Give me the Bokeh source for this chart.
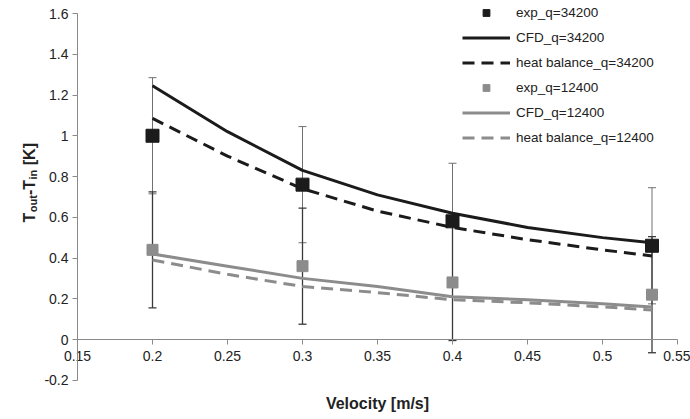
import math
from bokeh.plotting import figure
from bokeh.models import (ColumnDataSource, Range1d, LinearAxis, FixedTicker,
                          CustomJSTickFormatter, Whisker, TeeHead, Legend,
                          LegendItem, Label)
from bokeh.embed import file_html
from bokeh.resources import INLINE

# ---------------- data ----------------
velocity_exp = [0.2, 0.3, 0.4, 0.533]
exp_34200 = [1.00, 0.76, 0.58, 0.46]
exp_12400 = [0.44, 0.36, 0.28, 0.22]
err_34200 = [0.285, 0.285, 0.285, 0.285]
err_12400 = [0.285, 0.285, 0.285, 0.285]

velocity_model = [0.2, 0.25, 0.3, 0.35, 0.4, 0.45, 0.5, 0.533]
cfd_34200 = [1.245, 1.02, 0.83, 0.71, 0.62, 0.55, 0.50, 0.475]
hb_34200 = [1.085, 0.90, 0.74, 0.63, 0.55, 0.49, 0.44, 0.41]
cfd_12400 = [0.42, 0.36, 0.30, 0.26, 0.21, 0.195, 0.175, 0.16]
hb_12400 = [0.39, 0.32, 0.26, 0.23, 0.195, 0.18, 0.16, 0.145]

x_ticks = [0.15, 0.2, 0.25, 0.3, 0.35, 0.4, 0.45, 0.5, 0.55]
y_ticks = [-0.2, 0, 0.2, 0.4, 0.6, 0.8, 1.0, 1.2, 1.4, 1.6]

series_names = ["exp_q=34200", "CFD_q=34200", "heat balance_q=34200",
                "exp_q=12400", "CFD_q=12400", "heat balance_q=12400"]
x_title = "Velocity [m/s]"

# ---------------- style / layout ----------------
BLACK = "#1b1b1b"
GRAY = "#8c8c8c"
AXIS = "#8a8a8a"
FONT = "Liberation Sans"

W, H = 690, 419
PX_LEFT, PX_RIGHT, PX_TOP, PX_ZERO = 77, 677, 13, 339
XMIN, XMAX = x_ticks[0], x_ticks[-1]
YMIN, YMAX = y_ticks[0], y_ticks[-1]
xs = (PX_RIGHT - PX_LEFT) / (XMAX - XMIN)
ys = (PX_ZERO - PX_TOP) / YMAX
x_range = Range1d(XMIN - PX_LEFT / xs, XMAX + (W - PX_RIGHT) / xs)
y_range = Range1d(-(H - PX_ZERO) / ys, YMAX + PX_TOP / ys)

p = figure(width=W, height=H, output_backend="svg", toolbar_location=None,
           x_range=x_range, y_range=y_range,
           x_axis_location=None, y_axis_location=None,
           min_border=0)
p.outline_line_color = None
p.xgrid.visible = False
p.ygrid.visible = False
p.background_fill_color = "white"
p.border_fill_color = "white"

fmt = CustomJSTickFormatter(code="return String(Math.round(tick*1000)/1000);")

yax = LinearAxis(fixed_location=XMIN, bounds=(YMIN, YMAX),
                 ticker=FixedTicker(ticks=y_ticks), formatter=fmt)
yax.axis_line_color = AXIS
yax.major_tick_line_color = AXIS
yax.major_tick_out = 5
yax.major_tick_in = 0
yax.minor_tick_line_color = None
yax.major_label_text_font = FONT
yax.major_label_text_font_size = "14px"
yax.major_label_text_color = "#222222"
yax.major_label_standoff = 4
p.add_layout(yax, "left")

xax = LinearAxis(fixed_location=0, bounds=(XMIN, XMAX),
                 ticker=FixedTicker(ticks=x_ticks), formatter=fmt)
xax.axis_line_color = AXIS
xax.major_tick_line_color = AXIS
xax.major_tick_out = 5
xax.major_tick_in = 0
xax.minor_tick_line_color = None
xax.major_label_text_font = FONT
xax.major_label_text_font_size = "14px"
xax.major_label_text_color = "#222222"
xax.major_label_standoff = 6
p.add_layout(xax, "below")

# ---------------- data sources ----------------
src_exp = ColumnDataSource(dict(
    x=velocity_exp, y1=exp_34200, y2=exp_12400,
    up1=[v + e for v, e in zip(exp_34200, err_34200)],
    lo1=[v - e for v, e in zip(exp_34200, err_34200)],
    up2=[v + e for v, e in zip(exp_12400, err_12400)],
    lo2=[v - e for v, e in zip(exp_12400, err_12400)],
))
src_mod = ColumnDataSource(dict(x=velocity_model, c1=cfd_34200, h1=hb_34200,
                                c2=cfd_12400, h2=hb_12400))

# error bars
w1 = Whisker(source=src_exp, base="x", upper="up1", lower="lo1",
             dimension="height", line_color="#707070", line_width=1,
             upper_head=TeeHead(size=8, line_color="#707070", line_width=1),
             lower_head=TeeHead(size=8, line_color="#707070", line_width=1))
w2 = Whisker(source=src_exp, base="x", upper="up2", lower="lo2",
             dimension="height", line_color="#3a3a3a", line_width=1.3,
             upper_head=TeeHead(size=8, line_color="#3a3a3a", line_width=1.3),
             lower_head=TeeHead(size=8, line_color="#3a3a3a", line_width=1.3))
p.add_layout(w1)
p.add_layout(w2)

# model lines
r_c1 = p.line("x", "c1", source=src_mod, line_color=BLACK, line_width=3)
r_h1 = p.line("x", "h1", source=src_mod, line_color=BLACK, line_width=3,
              line_dash="12 7")
r_c2 = p.line("x", "c2", source=src_mod, line_color=GRAY, line_width=3)
r_h2 = p.line("x", "h2", source=src_mod, line_color=GRAY, line_width=3,
              line_dash="12 7")

# experimental points
r_e1 = p.scatter("x", "y1", source=src_exp, marker="square", size=13,
                 fill_color=BLACK, line_color=BLACK)
r_e2 = p.scatter("x", "y2", source=src_exp, marker="square", size=11,
                 fill_color=GRAY, line_color=GRAY)

GLYPH_H, GAP = 17, 8
legend = Legend(items=[
    LegendItem(label=series_names[0], renderers=[r_e1]),
    LegendItem(label=series_names[1], renderers=[r_c1]),
    LegendItem(label=series_names[2], renderers=[r_h1]),
    LegendItem(label=series_names[3], renderers=[r_e2]),
    LegendItem(label=series_names[4], renderers=[r_c2]),
    LegendItem(label=series_names[5], renderers=[r_h2]),
], location=(462, H - 3.5 - (6 * GLYPH_H + 5 * GAP)))
legend.border_line_color = None
legend.background_fill_alpha = 0
legend.padding = 0
legend.margin = 0
legend.spacing = GAP
legend.glyph_width = 48
legend.glyph_height = GLYPH_H
legend.label_height = GLYPH_H
legend.label_standoff = 6
legend.label_text_font = FONT
legend.label_text_font_size = "13.5px"
legend.label_text_color = "#222222"
legend.label_text_baseline = "middle"
p.add_layout(legend, "center")

# x axis title
p.add_layout(Label(x=377, y=H - 403, x_units="screen", y_units="screen",
                   text=x_title, text_font=FONT, text_font_size="16px",
                   text_font_style="bold", text_color="#222222",
                   text_align="center", text_baseline="middle"))

# y axis title built from pieces (subscripts), rotated
BW = {"T": .611, "o": .611, "u": .611, "t": .333, "-": .333, "i": .278,
      "n": .611, " ": .278, "[": .333, "K": .722, "]": .333}
pieces = [("T", 16, 0, 0), ("out", 11, 3, 0.5), ("-T", 16, 0, 0),
          ("in", 11, 3, 0.5), ("[K]", 16, 0, 4.5)]
ypos = H - 222
base_x = 29
for txt, fs, dx, gap in pieces:
    ypos += gap
    p.add_layout(Label(x=base_x + dx, y=ypos, x_units="screen",
                       y_units="screen", text=txt, angle=math.pi / 2,
                       text_font=FONT, text_font_size=f"{fs}px",
                       text_font_style="bold", text_color="#222222",
                       text_align="left", text_baseline="alphabetic"))
    ypos += sum(BW[c] for c in txt) * fs

open("out.html", "w").write(file_html(p, INLINE))
